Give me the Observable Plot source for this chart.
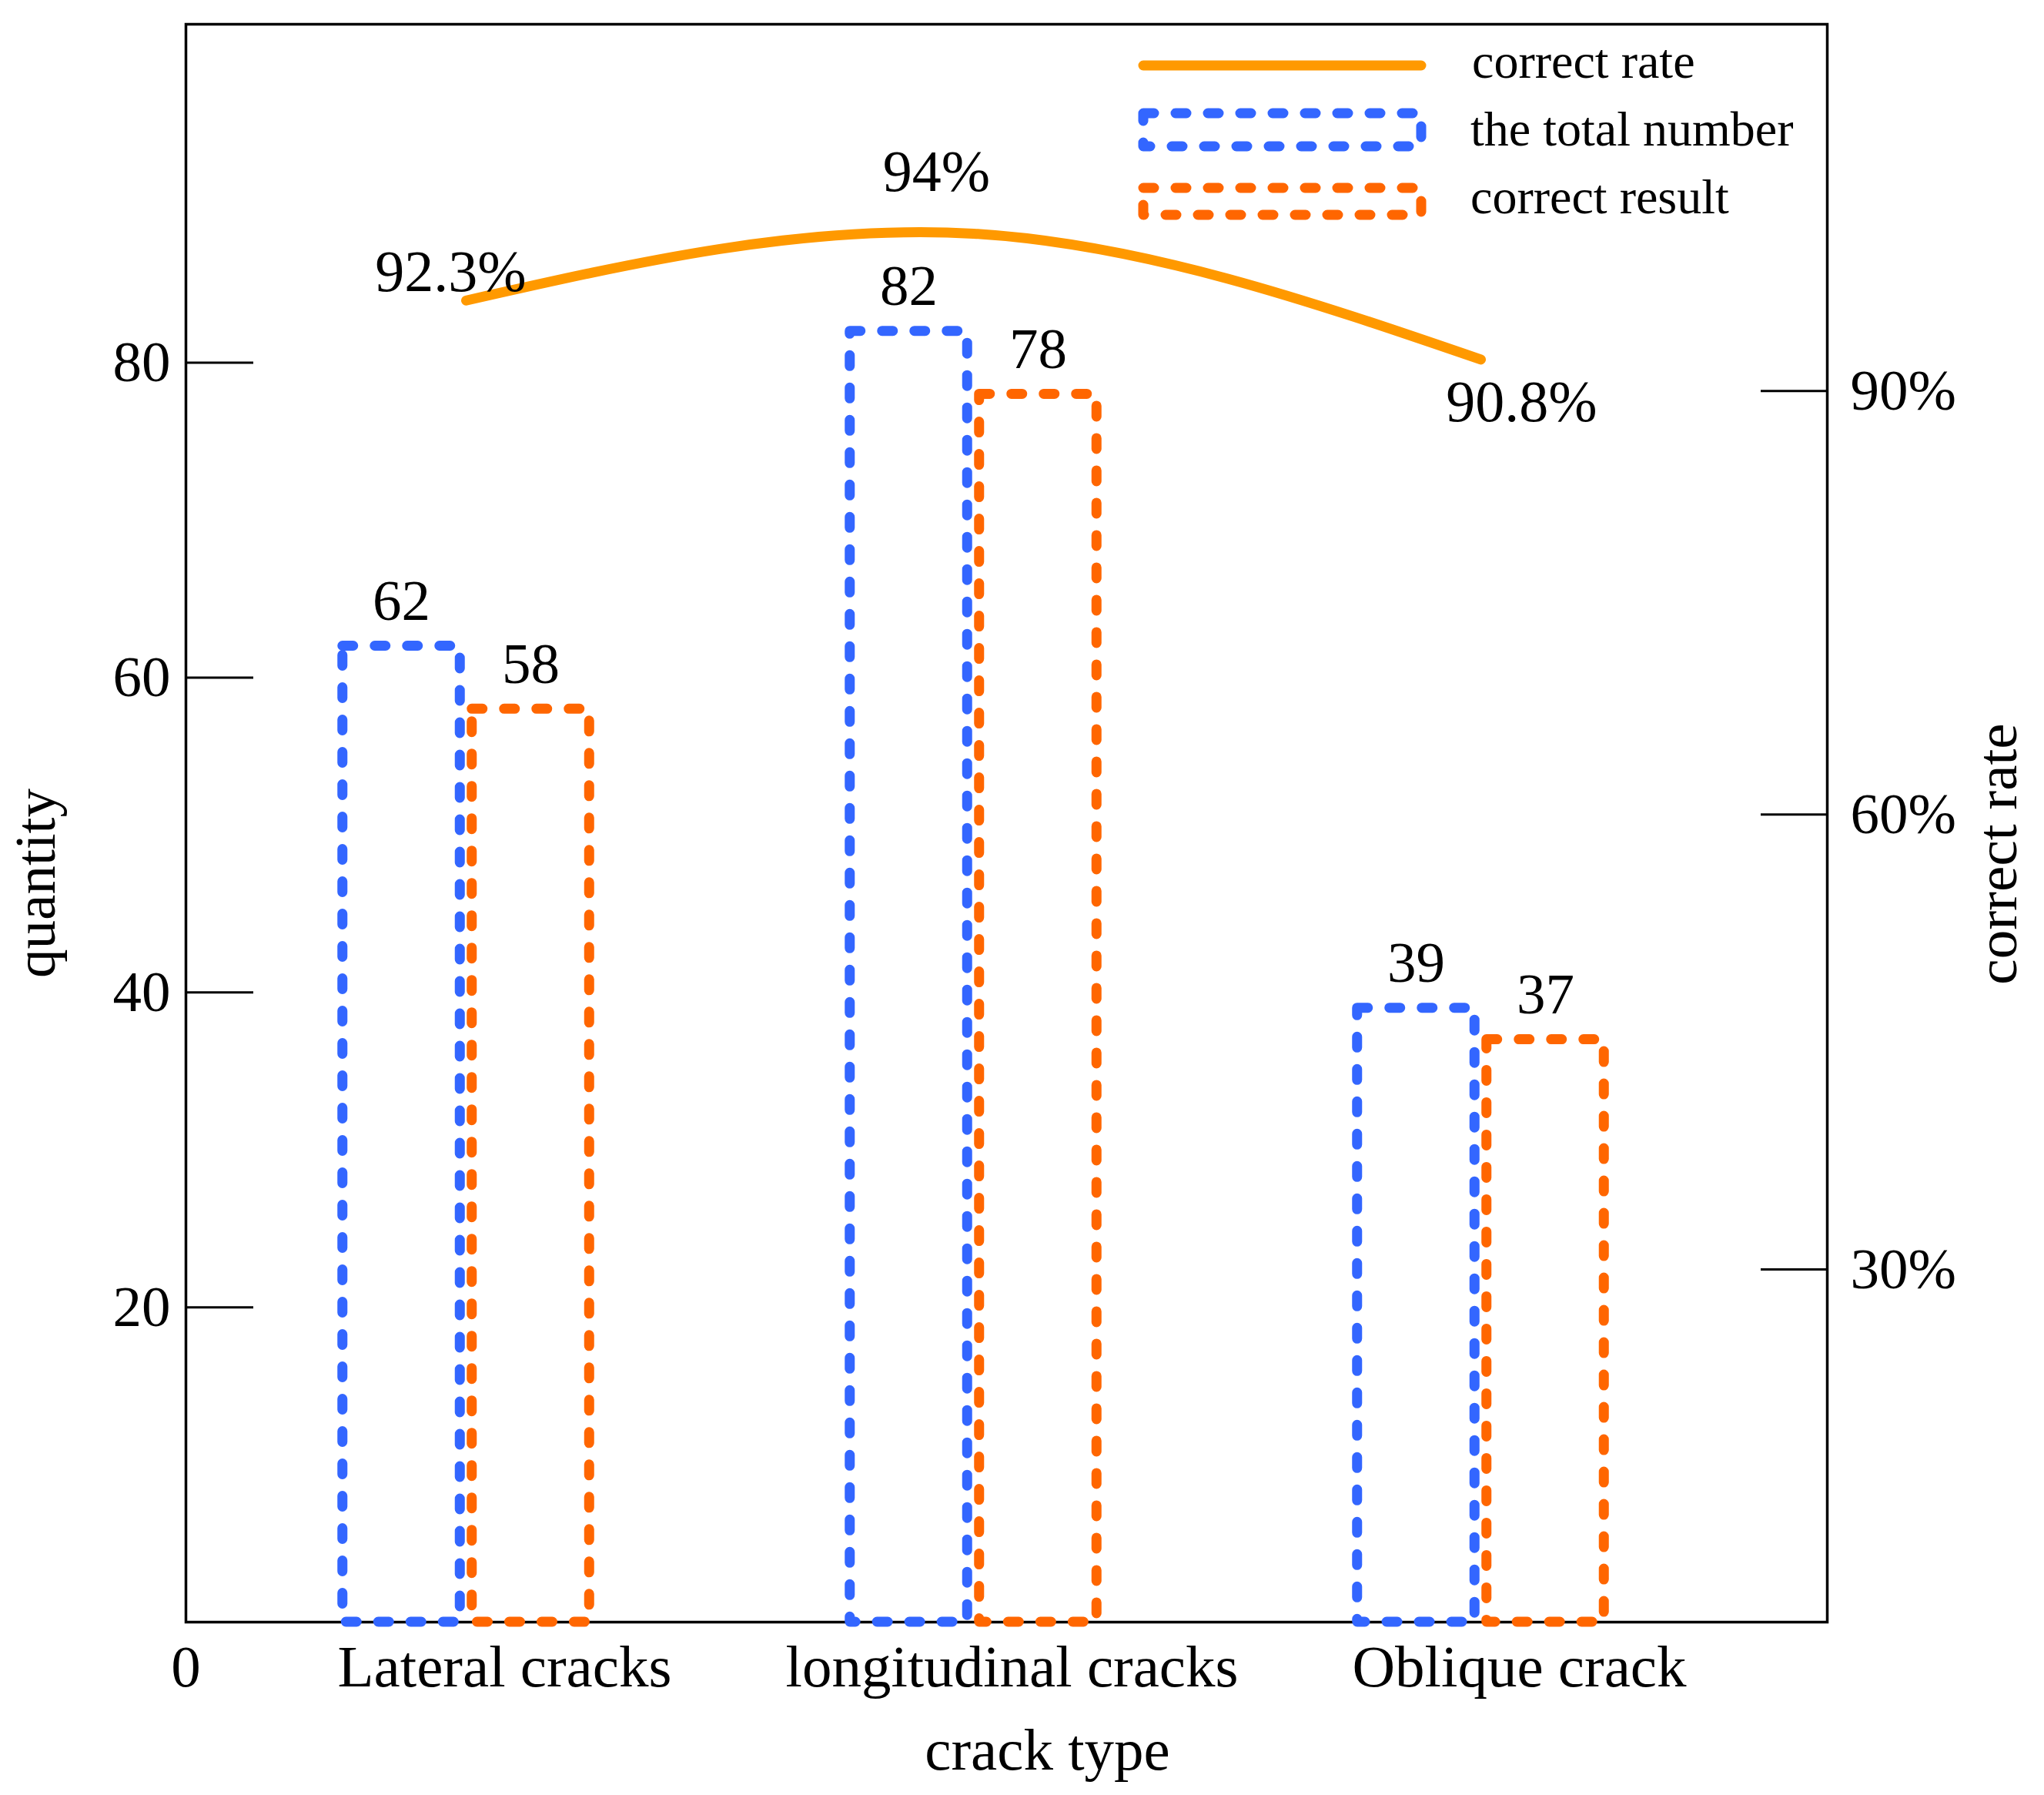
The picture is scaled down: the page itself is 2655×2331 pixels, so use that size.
<!DOCTYPE html>
<html>
<head>
<meta charset="utf-8">
<script src="https://cdn.jsdelivr.net/npm/d3@7"></script>
<script src="https://cdn.jsdelivr.net/npm/@observablehq/plot@0.6"></script>
<style>
  html, body { margin: 0; padding: 0; background: #fff; }
  #chart { position: relative; width: 2655px; height: 2331px; }
  #chart svg { font-family: "Liberation Serif", "Times New Roman", serif; }
</style>
</head>
<body>
<div id="chart"><div id="plot"></div></div>
<script>
// data
const categories = ["Lateral cracks", "longitudinal cracks", "Oblique crack"];
const totalNumber = [62, 82, 39];
const correctResult = [58, 78, 37];
const correctRate = [92.3, 94, 90.8];
const rateLabels = ["92.3%", "94%", "90.8%"];
const quantityTicks = [20, 40, 60, 80];
const rateTicks = [30, 60, 90];
const rateTickLabels = ["30%", "60%", "90%"];
const legendLabels = ["correct rate", "the total number", "correct result"];

const BLUE = "#3366ff";
const ORANGE = "#ff6600";
const LINE = "#ff9900";

const W = 2655, H = 2331;
const margin = {left: 241, right: 282, top: 31, bottom: 225};
const frameW = W - margin.left - margin.right;

// the right axis is drawn unevenly in the picture, so rate -> quantity is piecewise
const rateAxis = d3.scaleLinear().domain([30, 60, 90, 100]).range([22.4, 51.3, 78.2, 103.2]);

const xOpts = {domain: categories, paddingInner: 0.5, paddingOuter: 0.3676, align: 0.411};
const xb = d3.scaleBand(categories, [margin.left, W - margin.right])
  .paddingInner(xOpts.paddingInner).paddingOuter(xOpts.paddingOuter).align(xOpts.align);
const barW = 152, barShift = 84;
const inset = (xb.bandwidth() - barW) / 2;

const totalRows = categories.map((c, i) => ({category: c, value: totalNumber[i]}));
const correctRows = categories.map((c, i) => ({category: c, value: correctResult[i]}));
const rateRows = categories.map((c, i) => ({category: c, rate: correctRate[i], label: rateLabels[i]}));

const dash = {fill: "none", strokeWidth: 13, strokeDasharray: "14,28", strokeLinecap: "round", strokeLinejoin: "round"};

// where each rate label sits relative to its point
const rateLabelOffsets = [[-20, -12], [-48, -55], [53, 80]];

const plot = Plot.plot({
  width: W,
  height: H,
  marginLeft: margin.left,
  marginRight: margin.right,
  marginTop: margin.top,
  marginBottom: margin.bottom,
  style: {background: "#fff", color: "#000", fontFamily: "'Liberation Serif', 'Times New Roman', serif", overflow: "visible"},
  x: xOpts,
  y: {domain: [0, 101.5]},
  marks: [
    Plot.frame({stroke: "#000", strokeWidth: 3.5}),
    Plot.tickY(quantityTicks, {y: d => d, insetRight: frameW - 88, stroke: "#000", strokeWidth: 3}),
    Plot.tickY(rateTicks, {y: d => rateAxis(d), insetLeft: frameW - 86, stroke: "#000", strokeWidth: 3}),
    Plot.axisY({ticks: quantityTicks, tickSize: 0, tickPadding: 20, fontSize: 75, label: null}),
    Plot.text(rateTicks, {y: d => rateAxis(d), text: (d, i) => rateTickLabels[i], frameAnchor: "right", dx: 30, textAnchor: "start", fontSize: 75}),
    Plot.axisX({tickSize: 0, tickPadding: 29, fontSize: 77, dx: 50, label: null}),
    Plot.text(["0"], {text: d => d, frameAnchor: "bottom-left", textAnchor: "middle", dy: 83, lineAnchor: "bottom", fontSize: 77}),
    Plot.text(["crack type"], {text: d => d, frameAnchor: "bottom", textAnchor: "middle", dx: 53, dy: 191, lineAnchor: "bottom", fontSize: 77}),
    Plot.text(["quantity"], {text: d => d, frameAnchor: "left", textAnchor: "middle", rotate: -90, dx: -171, dy: 78, lineAnchor: "bottom", fontSize: 75}),
    Plot.text(["correct rate"], {text: d => d, frameAnchor: "right", textAnchor: "middle", rotate: -90, dx: 245, dy: 40, lineAnchor: "bottom", fontSize: 75}),
    Plot.barY(totalRows, {x: "category", y: "value", dx: -barShift, insetLeft: inset, insetRight: inset, stroke: BLUE, ...dash}),
    Plot.barY(correctRows, {x: "category", y: "value", dx: barShift, insetLeft: inset, insetRight: inset, stroke: ORANGE, ...dash}),
    Plot.text(totalRows, {x: "category", y: "value", text: d => String(d.value), dx: -barShift, dy: -34, lineAnchor: "bottom", fontSize: 75}),
    Plot.text(correctRows, {x: "category", y: "value", text: d => String(d.value), dx: barShift, dy: -34, lineAnchor: "bottom", fontSize: 75}),
    Plot.line(rateRows, {x: "category", y: d => rateAxis(d.rate), curve: "natural", stroke: LINE, strokeWidth: 13, strokeLinecap: "round"}),
    ...rateRows.map((d, i) => Plot.text([d], {
      x: "category", y: r => rateAxis(r.rate), text: "label",
      dx: rateLabelOffsets[i][0], dy: rateLabelOffsets[i][1], lineAnchor: "bottom", fontSize: 76
    }))
  ]
});

document.getElementById("plot").appendChild(plot);

// legend, drawn over the top right corner of the frame
const legend = d3.select("#chart").append("svg")
  .attr("width", W).attr("height", 320)
  .style("position", "absolute").style("left", "0px").style("top", "0px")
  .style("pointer-events", "none");

legend.append("line")
  .attr("x1", 1485).attr("x2", 1846).attr("y1", 85).attr("y2", 85)
  .attr("stroke", LINE).attr("stroke-width", 13).attr("stroke-linecap", "round");

[[BLUE, 147, 43], [ORANGE, 244, 35]].forEach(([color, top, h]) => {
  legend.append("rect")
    .attr("x", 1485).attr("y", top).attr("width", 361).attr("height", h)
    .attr("fill", "none").attr("stroke", color).attr("stroke-width", 13)
    .attr("stroke-dasharray", "14,28").attr("stroke-linecap", "round").attr("stroke-linejoin", "round");
});

legend.selectAll("text.lab")
  .data(legendLabels)
  .join("text")
  .attr("class", "lab")
  .attr("x", (d, i) => i === 0 ? 1912 : 1910)
  .attr("y", (d, i) => [101, 189, 277][i])
  .attr("font-size", 64)
  .attr("fill", "#000")
  .text(d => d);
</script>
</body>
</html>
